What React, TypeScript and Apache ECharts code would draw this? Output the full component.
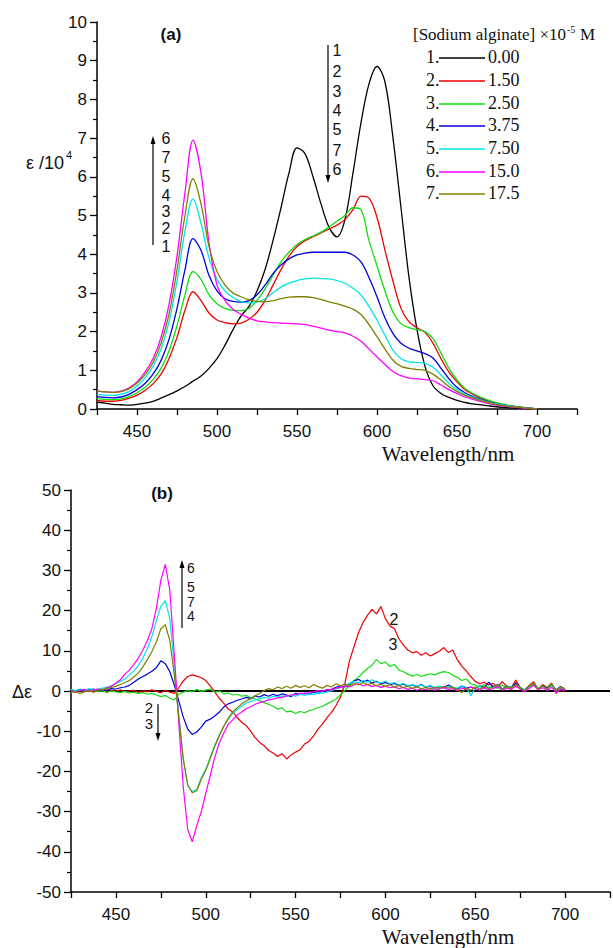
import React, { useEffect, useRef } from "react";
import * as echarts from "echarts";

// ---------- Panel (a): absorption spectra ----------
const WL_A = [425, 430, 435, 440, 445, 450, 455, 460, 465, 470, 475, 480, 485, 490, 495, 500, 505, 510, 515, 520, 525, 530, 535, 540, 545, 550, 555, 560, 565, 570, 575, 580, 585, 590, 595, 600, 605, 610, 615, 620, 625, 630, 635, 640, 645, 650, 655, 660, 670, 680, 690, 700];
const A1 = [0.18, 0.15, 0.12, 0.11, 0.1, 0.12, 0.15, 0.2, 0.28, 0.37, 0.47, 0.58, 0.72, 0.85, 1.05, 1.3, 1.65, 2.05, 2.4, 2.65, 3.05, 3.6, 4.35, 5.2, 6.1, 6.75, 6.6, 6.0, 5.3, 4.7, 4.45, 4.9, 6.1, 7.4, 8.4, 8.85, 8.45, 7.0, 5.2, 3.4, 2.05, 1.1, 0.6, 0.4, 0.3, 0.22, 0.17, 0.13, 0.08, 0.04, 0.02, 0];
const A2 = [0.22, 0.2, 0.2, 0.22, 0.28, 0.36, 0.48, 0.65, 0.9, 1.3, 1.85, 2.55, 3.03, 2.8, 2.48, 2.3, 2.23, 2.2, 2.22, 2.32, 2.5, 2.8, 3.2, 3.6, 3.95, 4.2, 4.35, 4.45, 4.55, 4.65, 4.75, 4.9, 5.15, 5.5, 5.45, 4.95, 4.1, 3.3, 2.6, 2.25, 2.1, 1.98, 1.7, 1.3, 0.95, 0.7, 0.5, 0.38, 0.2, 0.1, 0.04, 0];
const A3 = [0.27, 0.25, 0.24, 0.26, 0.32, 0.42, 0.56, 0.76, 1.05, 1.5, 2.15, 2.95, 3.55, 3.35, 2.95, 2.72, 2.6, 2.55, 2.54, 2.6, 2.8, 3.1, 3.45, 3.8, 4.05, 4.25, 4.38, 4.47, 4.57, 4.7, 4.85, 5.0, 5.2, 5.15, 4.35, 3.7, 3.05, 2.5, 2.2, 2.1, 2.05, 2.0, 1.82, 1.45, 1.05, 0.75, 0.53, 0.4, 0.22, 0.11, 0.05, 0];
const A4 = [0.32, 0.3, 0.29, 0.31, 0.38, 0.5, 0.66, 0.9, 1.25, 1.8, 2.6, 3.6, 4.4, 4.1, 3.45, 3.05, 2.85, 2.78, 2.76, 2.8, 2.95, 3.2, 3.5, 3.72, 3.88, 3.98, 4.03, 4.05, 4.05, 4.05, 4.05, 4.05, 3.98, 3.8, 3.4, 2.9, 2.35, 1.95, 1.7, 1.57, 1.5, 1.43, 1.32, 1.05, 0.78, 0.56, 0.42, 0.32, 0.18, 0.09, 0.04, 0];
const A5 = [0.38, 0.36, 0.35, 0.38, 0.45, 0.6, 0.8, 1.1, 1.55, 2.25, 3.3, 4.6, 5.43, 4.8, 3.9, 3.35, 3.05, 2.88, 2.78, 2.74, 2.76, 2.85, 3.0, 3.15, 3.25, 3.32, 3.36, 3.38, 3.37, 3.36, 3.32, 3.25, 3.12, 2.95, 2.65, 2.3, 1.9, 1.52, 1.3, 1.22, 1.2, 1.18, 1.08, 0.88, 0.66, 0.5, 0.38, 0.3, 0.17, 0.09, 0.04, 0];
const A6 = [0.47, 0.44, 0.43, 0.46, 0.55, 0.7, 0.95, 1.3, 1.85, 2.7, 3.95, 5.6, 6.95, 6.1, 4.3, 3.2, 2.8, 2.58, 2.45, 2.35, 2.28, 2.25, 2.23, 2.22, 2.21, 2.2, 2.18, 2.14, 2.09, 2.04, 2.0, 1.97, 1.88, 1.75, 1.55, 1.35, 1.15, 0.97, 0.86, 0.8, 0.78, 0.76, 0.73, 0.62, 0.5, 0.4, 0.31, 0.25, 0.14, 0.07, 0.03, 0];
const A7 = [0.47, 0.44, 0.43, 0.45, 0.52, 0.67, 0.88, 1.2, 1.7, 2.45, 3.6, 5.0, 5.95, 5.3, 4.2, 3.55, 3.2, 3.0, 2.9, 2.82, 2.78, 2.77, 2.8, 2.85, 2.89, 2.9, 2.9, 2.88, 2.83, 2.77, 2.72, 2.66, 2.58, 2.44, 2.18, 1.87, 1.55, 1.26, 1.1, 1.05, 1.02, 1.0, 0.9, 0.75, 0.58, 0.45, 0.35, 0.28, 0.16, 0.08, 0.04, 0];

// ---------- Panel (b): difference spectra ----------
const WL_B = [425, 427.5, 430, 432.5, 435, 437.5, 440, 442.5, 445, 447.5, 450, 452.5, 455, 457.5, 460, 462.5, 465, 467.5, 470, 472.5, 475, 477.5, 480, 482.5, 485, 487.5, 490, 492.5, 495, 497.5, 500, 502.5, 505, 507.5, 510, 512.5, 515, 517.5, 520, 522.5, 525, 527.5, 530, 532.5, 535, 537.5, 540, 542.5, 545, 547.5, 550, 552.5, 555, 557.5, 560, 562.5, 565, 567.5, 570, 572.5, 575, 577.5, 580, 582.5, 585, 587.5, 590, 592.5, 595, 597.5, 600, 602.5, 605, 607.5, 610, 612.5, 615, 617.5, 620, 622.5, 625, 627.5, 630, 632.5, 635, 637.5, 640, 642.5, 645, 647.5, 650, 652.5, 655, 657.5, 660, 662.5, 665, 667.5, 670, 672.5, 675, 677.5, 680, 682.5, 685, 687.5, 690, 692.5, 695, 697.5, 700];
const B2 = [
  0.1, -0.3, 0.2, -0.1, 0.3, -0.2, 0.0, 0.2, -0.3, 0.1,
  -0.1, 0.3, -0.2, 0.0, 0.2, -0.4, 0.1, -0.2, 0.3, -0.1,
  -0.4, 0.2, -0.3, -0.6, 0.8, 2.5, 3.6, 4.0, 3.7, 3.3,
  2.6, 1.3, -0.2, -1.8, -3.0, -4.5, -5.2, -6.6, -7.8, -8.6,
  -10.0, -11.6, -12.8, -13.6, -14.8, -15.4, -16.3, -15.6, -16.9, -15.9,
  -15.2, -14.6, -13.2, -12.5, -11.2, -9.5, -8.2, -6.6, -5.3, -3.6,
  -1.5, 2.0, 7.5, 11.0, 14.5, 17.0, 18.8, 20.3, 19.2, 21.0,
  18.0, 16.2, 15.5, 13.0, 11.4, 10.2, 9.5, 9.8, 8.9, 9.5,
  8.7, 9.3, 9.9, 10.8, 9.6, 10.2, 7.8, 6.2, 5.0, 3.6,
  2.4, 1.8, 2.2, 1.5, 1.9, 1.0, 2.3, 1.2, 0.6, 2.7,
  0.9, 0.2, 1.4, 2.3, 0.5, 1.6, 0.8, 2.0, -0.6, 0.9, -0.3,
];
const B3 = [
  0.1, -0.2, 0.2, -0.1, 0.0, 0.3, -0.2, 0.1, -0.3, 0.0,
  -0.2, -0.4, -0.1, -0.5, -0.3, -0.6, -0.4, -0.8, -0.6, -1.0,
  -1.4, -1.1, -1.8, -2.2, -0.8, -0.3, 0.1, -0.2, 0.4, -0.1,
  0.2, 0.5, -0.3, 0.0, -0.7, -0.5, -1.0, -0.8, -1.3, -1.1,
  -1.6, -2.0, -2.4, -2.9, -3.3, -3.8, -4.5, -4.2, -5.2, -5.0,
  -5.6, -5.1, -5.4, -4.9, -4.6, -4.1, -3.8, -3.2, -2.6, -2.0,
  -1.0, 0.2, 1.4, 2.6, 3.4, 4.6, 5.6, 6.4, 7.8, 6.8,
  7.2, 6.1, 6.6, 5.2, 4.8, 4.2, 3.7, 4.1, 3.6, 4.0,
  4.3, 4.0, 4.5, 4.8, 4.6, 3.9, 3.4, 2.6, 3.0, 1.8,
  1.5, 1.0, 1.6, 0.8, 1.3, 0.6, 1.5, 0.9, 0.5, 1.8,
  0.7, 0.3, 1.2, 1.9, 0.4, 1.4, 0.6, 1.8, 0.1, 1.0, 0.3,
];
const B4 = [
  0.3, 0.0, 0.4, -0.1, 0.2, 0.5, 0.1, 0.4, 0.2, 0.6,
  0.5, 0.8, 1.0, 1.4, 2.2, 3.0, 3.6, 4.2, 4.9, 5.8,
  7.5, 6.8, 4.8, 1.5, -2.5, -6.5, -9.5, -10.8, -10.2, -9.0,
  -7.5, -7.0, -6.2, -5.3, -4.0, -3.2, -2.8, -2.3, -2.0, -1.6,
  -1.9, -1.2, -1.5, -0.9, -1.3, -0.8, -1.2, -0.7, -1.0, -1.4,
  -0.6, -0.9, -0.5, -0.8, -0.3, -0.6, 0.0, -0.2, 0.4, 0.9,
  1.3, 1.0, 1.8, 2.5, 2.9, 2.2, 2.7, 2.0, 2.4, 1.8,
  2.1, 1.6, 1.9, 1.4, 1.7, 1.2, 1.5, 1.0, 1.6, 0.9,
  1.3, 0.7, 1.1, 0.8, 1.5, 0.9, 0.5, 1.2, 0.7, 1.0,
  0.6, 1.3, 0.8, 2.2, 1.0, 1.6, 0.5, 1.2, 0.9, 2.0,
  0.6, 0.2, 1.1, 1.7, 0.4, 1.3, 0.6, 1.5, 0.3, 1.1, 0.4,
];
const B5 = [
  0.4, 0.1, 0.5, 0.2, 0.6, 0.3, 0.5, 0.7, 1.0, 1.3,
  1.9, 2.4, 3.0, 4.0, 5.0, 6.4, 8.2, 10.5, 13.5, 17.5,
  21.0, 22.5, 18.0, 6.0, -6.0, -17.0, -23.5, -25.0, -24.5, -21.5,
  -19.5, -16.5, -13.5, -11.0, -8.8, -7.0, -5.6, -4.6, -3.8, -3.0,
  -2.6, -2.2, -1.9, -1.6, -1.8, -1.3, -1.5, -1.2, -1.4, -1.0,
  -1.3, -0.8, -1.1, -0.7, -0.9, -0.4, -0.6, -0.2, 0.1, 0.5,
  0.8, 1.3, 1.9, 2.4, 2.0, 2.6, 2.2, 2.8, 2.3, 2.0,
  2.5, 1.8, 2.1, 1.5, 1.9, 1.3, 1.6, 1.2, 1.5, 1.0,
  1.4, 0.8, 1.2, 0.6, 1.1, 0.9, 0.7, 1.3, 0.9, -1.2,
  0.8, 1.2, 0.5, 1.0, 0.7, 1.3, 0.4, 1.1, 0.8, 1.5,
  0.9, 0.3, 1.0, 1.6, 0.6, 1.2, 0.4, 1.3, 0.2, 0.9, 0.5,
];
const B6 = [
  0.2, -0.3, 0.1, 0.4, -0.2, 0.3, 0.5, 0.2, 0.8, 1.2,
  2.0, 2.8, 4.2, 5.2, 6.6, 8.2, 10.2, 12.5, 15.5, 20.5,
  27.5, 31.5, 25.0, 9.0, -8.0, -24.0, -34.5, -37.5, -33.5, -30.0,
  -25.5, -21.0, -16.5, -13.0, -10.5, -8.3, -7.2, -6.0, -5.2, -4.4,
  -3.9, -3.3, -2.9, -2.6, -2.2, -2.0, -1.7, -1.6, -1.2, -1.0,
  -0.9, -0.5, -0.7, -0.3, -0.2, 0.1, -0.1, 0.4, 0.3, 0.7,
  0.9, 1.2, 1.0, 1.5, 1.8, 1.3, 1.6, 1.1, 1.4, 0.9,
  1.2, 0.8, 1.0, 0.6, 0.9, 0.4, 0.7, 0.2, 0.6, 0.3,
  0.8, 0.2, 0.5, 0.9, 0.3, 0.6, 0.1, 0.7, 0.4, 1.0,
  0.5, 0.2, 0.8, 0.3, 0.6, 1.1, 0.2, 0.7, 0.4, 1.2,
  0.5, -0.2, 0.6, 1.4, 0.3, 0.8, 0.1, 0.9, -0.3, 0.4, 0.2,
];
const B7 = [
  -0.4, -0.1, -0.6, -0.2, 0.1, -0.3, 0.2, 0.4, 0.6, 0.9,
  1.2, 1.6, 2.1, 2.6, 3.5, 4.5, 6.0, 7.8, 9.8, 12.2,
  15.5, 16.5, 12.5, 4.0, -6.5, -17.0, -23.5, -25.3, -24.8, -22.0,
  -19.8, -16.8, -13.8, -11.2, -8.8, -6.8, -5.2, -4.2, -3.2, -2.5,
  -1.9, -1.2, -0.6, 0.1, 0.6, 0.3, 1.0, 0.6, 1.2, 0.7,
  1.4, 0.9, 1.3, 0.8, 1.6, 1.1, 0.7, 1.4, 1.0, 1.8,
  1.3, 1.7, 1.2, 2.0, 1.5, 2.1, 1.6, 1.9, 1.3, 1.7,
  1.1, 1.6, 0.9, 1.4, 0.8, 1.2, 0.6, 1.1, 0.5, 0.9,
  0.4, 1.0, 0.6, 1.2, 0.7, 0.9, 0.3, -0.4, 0.8, 0.2,
  1.0, 0.5, 1.2, 0.6, 1.0, 1.5, 0.4, 1.1, 0.7, 1.6,
  0.8, 0.1, 1.2, 1.8, 0.5, 1.3, 0.4, 1.7, 0.2, 1.0, 0.6,
];
const ZERO_LINE_X = [425, 725];

// ---------- Texts ----------
const LEGEND_IDS = ["1.", "2.", "3.", "4.", "5.", "6.", "7."];
const LEGEND_CONC = ["0.00", "1.50", "2.50", "3.75", "7.50", "15.0", "17.5"];
const X_LABELS = [450, 500, 550, 600, 650, 700];
const ARROW_A_UP = ["6", "7", "5", "4", "3", "2", "1"];
const ARROW_A_DOWN = ["1", "2", "3", "4", "5", "7", "6"];
const ARROW_B_UP = ["6", "5", "7", "4"];
const ARROW_B_DOWN = ["2", "3"];

const COLORS = ["#000000", "#ee0000", "#11dd11", "#0000dd", "#00e5e5", "#ff00ff", "#808000"];

const SANS = "Liberation Sans";
const SERIF = "Liberation Serif";

function pairs(xs: number[], ys: number[]) {
  return xs.map((x, i) => [x, ys[i]]);
}

function txt(x: number, y: number, text: string, size: number, opts: any = {}) {
  return {
    type: "text",
    x,
    y,
    z: 10,
    style: {
      text,
      fontSize: size,
      fontFamily: opts.family || SANS,
      fontWeight: opts.weight || "normal",
      fill: opts.fill || "#111",
      textAlign: opts.align || "center",
      textVerticalAlign: "middle",
      align: opts.align || "center",
      verticalAlign: "middle",
    },
  };
}

function arrow(x: number, yStart: number, yTip: number) {
  const dir = yTip < yStart ? 1 : -1;
  return [
    {
      type: "line",
      z: 10,
      shape: { x1: x, y1: yStart, x2: x, y2: yTip + dir * 6 },
      style: { stroke: "#000", lineWidth: 1.2 },
    },
    {
      type: "polygon",
      z: 10,
      shape: {
        points: [
          [x, yTip],
          [x - 2.5, yTip + dir * 8],
          [x + 2.5, yTip + dir * 8],
        ],
      },
      style: { fill: "#000" },
    },
  ];
}

function xAxisCfg(gridIndex: number) {
  return {
    gridIndex,
    type: "value",
    min: 425,
    max: 725,
    interval: 25,
    axisLine: { show: true, onZero: false, lineStyle: { color: "#000", width: 1.5 } },
    axisTick: { show: true, length: 6, lineStyle: { color: "#000", width: 1.3 } },
    axisLabel: {
      fontSize: 17,
      fontFamily: SANS,
      color: "#111",
      margin: 14,
      formatter: (v: number) => (X_LABELS.indexOf(v) >= 0 ? String(v) : ""),
    },
    splitLine: { show: false },
  };
}

function yAxisCfg(gridIndex: number, min: number, max: number, interval: number) {
  return {
    gridIndex,
    type: "value",
    min,
    max,
    interval,
    axisLine: { show: true, onZero: false, lineStyle: { color: "#000", width: 1.5 } },
    axisTick: { show: true, length: 7, lineStyle: { color: "#000", width: 1.3 } },
    minorTick: { show: true, splitNumber: 2, length: 4, lineStyle: { color: "#000", width: 1.2 } },
    axisLabel: { fontSize: 17, fontFamily: SANS, color: "#111", margin: 10 },
    splitLine: { show: false },
    minorSplitLine: { show: false },
  };
}

export default function App() {
  const ref = useRef<HTMLDivElement>(null);

  useEffect(() => {
    if (!ref.current) return;
    const chart = echarts.init(ref.current, undefined, { renderer: "svg" });

    const aSeries = [A1, A2, A3, A4, A5, A6, A7].map((ys, i) => ({
      type: "line",
      xAxisIndex: 0,
      yAxisIndex: 0,
      data: pairs(WL_A, ys),
      smooth: 0.35,
      symbol: "none",
      lineStyle: { color: COLORS[i], width: 1.3 },
      z: 3,
    }));

    const bData = [B2, B3, B4, B5, B6, B7];
    const bColors = [COLORS[1], COLORS[2], COLORS[3], COLORS[4], COLORS[5], COLORS[6]];
    const bSeries = bData.map((ys, i) => ({
      type: "line",
      xAxisIndex: 1,
      yAxisIndex: 1,
      data: pairs(WL_B, ys),
      symbol: "none",
      lineStyle: { color: bColors[i], width: 1.2 },
      z: 3,
    }));

    const zeroSeries = {
      type: "line",
      xAxisIndex: 1,
      yAxisIndex: 1,
      data: ZERO_LINE_X.map((x) => [x, 0]),
      symbol: "none",
      lineStyle: { color: "#000", width: 2 },
      z: 2,
    };

    const graphic: any[] = [];
    // panel labels
    graphic.push(txt(171, 34, "(a)", 17, { weight: "bold" }));
    graphic.push(txt(162, 493, "(b)", 17, { weight: "bold" }));
    // axis names
    graphic.push(txt(26, 163, "\u03b5 /10", 18, { align: "left" }));
    graphic.push(txt(66, 155, "4", 11, { align: "left" }));
    graphic.push(txt(12, 692, "\u0394\u03b5", 18, { align: "left" }));
    graphic.push(txt(448, 454, "Wavelength/nm", 21, { family: SERIF }));
    graphic.push(txt(448, 937, "Wavelength/nm", 21, { family: SERIF }));
    // legend
    graphic.push(txt(413, 34, "[Sodium alginate] \u00d710", 17, { family: SERIF, align: "left" }));
    graphic.push(txt(567, 29, "-5", 10, { family: SERIF, align: "left" }));
    graphic.push(txt(580, 34, "M", 17, { family: SERIF, align: "left" }));
    const legendY = [57, 80, 103, 125, 148, 171, 193];
    LEGEND_IDS.forEach((id, i) => {
      graphic.push(txt(426, legendY[i], id, 18, { family: SERIF, align: "left" }));
      graphic.push({
        type: "line",
        z: 10,
        shape: { x1: 439, y1: legendY[i] + 1, x2: 485, y2: legendY[i] + 1 },
        style: { stroke: COLORS[i], lineWidth: 1.5 },
      });
      graphic.push(txt(488, legendY[i], LEGEND_CONC[i], 18, { family: SERIF, align: "left" }));
    });
    // panel (a) arrows
    graphic.push(...arrow(153, 245, 136));
    const aUpY = [138, 157, 176, 195, 211, 228, 246];
    ARROW_A_UP.forEach((t, i) => graphic.push(txt(166, aUpY[i], t, 16)));
    graphic.push(...arrow(328, 45, 183));
    const aDownY = [50, 71, 91, 110, 129, 150, 169];
    ARROW_A_DOWN.forEach((t, i) => graphic.push(txt(337, aDownY[i], t, 16)));
    // panel (b) arrows
    graphic.push(...arrow(182, 628, 560));
    const bUpY = [568, 587, 601.5, 616];
    ARROW_B_UP.forEach((t, i) => graphic.push(txt(191, bUpY[i], t, 14)));
    graphic.push(...arrow(158, 704, 741));
    const bDownY = [707, 723];
    ARROW_B_DOWN.forEach((t, i) => graphic.push(txt(149, bDownY[i], t, 15)));
    graphic.push(txt(394, 619, "2", 16));
    graphic.push(txt(393, 644, "3", 16));

    chart.setOption({
      animation: false,
      backgroundColor: "#ffffff",
      grid: [
        { left: 97, top: 22, width: 480, height: 387 },
        { left: 71, top: 490, width: 540, height: 402 },
      ],
      xAxis: [xAxisCfg(0), xAxisCfg(1)],
      yAxis: [yAxisCfg(0, 0, 10, 1), yAxisCfg(1, -50, 50, 10)],
      series: [...aSeries, zeroSeries, ...bSeries],
      graphic,
    });

    return () => chart.dispose();
  }, []);

  return (
    <div
      ref={ref}
      style={{ position: "absolute", left: 0, top: 0, width: 613, height: 948, background: "#fff" }}
    />
  );
}
